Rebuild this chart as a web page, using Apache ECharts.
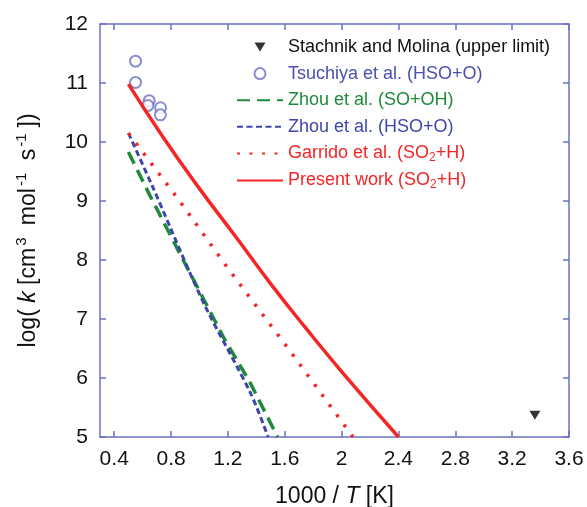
<!DOCTYPE html>
<html>
<head>
<meta charset="utf-8">
<script src="https://cdn.jsdelivr.net/npm/echarts@6/dist/echarts.min.js"></script>
<style>
  html, body { margin: 0; padding: 0; background: #fff; }
  #main { width: 587px; height: 507px; }
</style>
</head>
<body>
<div id="main"></div>
<script>
// values (x = 1000/T, y = log k)
var xTicks = [0.4, 0.8, 1.2, 1.6, 2, 2.4, 2.8, 3.2, 3.6];
var stachnik = [[3.36, 5.37]];
var tsuchiya = [[0.55, 11.37], [0.55, 11.01], [0.646, 10.70], [0.637, 10.62], [0.726, 10.58], [0.725, 10.46]];
var zhouSoOh = [[0.5, 9.83], [0.65, 9.10], [0.87, 8.07], [1.18, 6.64], [1.35, 5.95], [1.55, 5.0]];
var zhouHsoO = [[0.5, 10.15], [0.665, 9.27], [0.8, 8.52], [0.92, 7.85], [1.06, 7.12], [1.36, 5.74], [1.483, 5.0]];
var garrido = [[0.5, 10.15], [0.845, 9.05], [1.212, 7.82], [1.6, 6.58], [2.08, 5.0]];
var present = [[0.5, 10.98], [0.75, 10.06], [1.0, 9.21], [1.25, 8.41], [1.5, 7.6], [1.75, 6.84], [2.0, 6.11], [2.4, 5.0]];

var names = [
    'Stachnik and Molina (upper limit)',
    'Tsuchiya et al. (HSO+O)',
    'Zhou et al. (SO+OH)',
    'Zhou et al. (HSO+O)',
    'Garrido et al. (SO2+H)',
    'Present work (SO2+H)'
];

var axisColor = '#6b70c4';
var red = '#f42525';
var green = '#1f8a3c';
var blue = '#3a46aa';
var font = '"Liberation Sans", Arial, sans-serif';
var noSymbol = { opacity: 0 };

var myChart = echarts.init(document.getElementById('main'));

var option = {
    animation: false,
    backgroundColor: '#fff',
    textStyle: { fontFamily: font },
    grid: { left: 100, right: 18, top: 24, bottom: 70, outerBoundsMode: 'none', containLabel: false },
    legend: {
        orient: 'vertical',
        left: 231,
        top: 32,
        itemWidth: 46,
        itemHeight: 11,
        itemGap: 6.6,
        selectedMode: false,
        textStyle: {
            fontSize: 18,
            fontFamily: font,
            lineHeight: 20,
            rich: {
                s: { fontSize: 12, padding: [9, 0, 0, 0] }
            }
        },
        formatter: function (name) {
            return name.replace('SO2', 'SO{s|2}');
        },
        data: [
            { name: names[0], icon: 'path://M0,0M46,11M17.5,1L28.5,1L23,10Z', textStyle: { color: '#111' } },
            { name: names[1], textStyle: { color: '#4a50b0' } },
            { name: names[2], itemStyle: noSymbol, textStyle: { color: green } },
            { name: names[3], itemStyle: noSymbol, textStyle: { color: '#3f47a8' } },
            { name: names[4], itemStyle: noSymbol, textStyle: { color: red } },
            { name: names[5], itemStyle: noSymbol, textStyle: { color: red } }
        ]
    },
    xAxis: [{
        type: 'value',
        min: 0.3,
        max: 3.6,
        name: '1000 / {i|T} [K]',
        nameLocation: 'middle',
        nameGap: 48,
        nameTextStyle: {
            fontSize: 23,
            color: '#111',
            rich: { i: { fontSize: 23, fontStyle: 'italic', color: '#111' } }
        },
        axisLine: { show: true, lineStyle: { color: axisColor, width: 1.5 } },
        axisTick: { show: true, inside: true, length: 6, customValues: xTicks, lineStyle: { color: axisColor, width: 1.5 } },
        axisLabel: { customValues: xTicks, fontSize: 21, color: '#111', margin: 12 },
        splitLine: { show: false }
    }, {
        type: 'value',
        position: 'top',
        min: 0.3,
        max: 3.6,
        axisLine: { show: true, lineStyle: { color: axisColor, width: 1.5 } },
        axisTick: { show: true, inside: true, length: 6, customValues: xTicks, lineStyle: { color: axisColor, width: 1.5 } },
        axisLabel: { show: false },
        splitLine: { show: false }
    }],
    yAxis: [{
        type: 'value',
        min: 5,
        max: 12,
        interval: 1,
        name: 'log( {i|k} [cm{sup|3} mol{sup|-1} s{sup|-1}])',
        nameLocation: 'middle',
        nameRotate: 90,
        nameGap: 57,
        nameTextStyle: {
            fontSize: 23,
            color: '#111',
            rich: {
                i: { fontSize: 23, fontStyle: 'italic', color: '#111' },
                sup: { fontSize: 15, color: '#111', padding: [0, 6, 14, 2] }
            }
        },
        axisLine: { show: true, lineStyle: { color: axisColor, width: 1.5 } },
        axisTick: { show: true, inside: true, length: 6, lineStyle: { color: axisColor, width: 1.5 } },
        axisLabel: { fontSize: 21, color: '#111', margin: 12 },
        splitLine: { show: false }
    }, {
        type: 'value',
        position: 'right',
        min: 5,
        max: 12,
        interval: 1,
        axisLine: { show: true, lineStyle: { color: axisColor, width: 1.5 } },
        axisTick: { show: true, inside: true, length: 6, lineStyle: { color: axisColor, width: 1.5 } },
        axisLabel: { show: false },
        splitLine: { show: false }
    }],
    series: [{
        name: names[0],
        type: 'scatter',
        data: stachnik,
        symbol: 'triangle',
        symbolRotate: 180,
        symbolSize: [11, 9],
        itemStyle: { color: '#000' }
    }, {
        name: names[1],
        type: 'scatter',
        data: tsuchiya,
        symbol: 'emptyCircle',
        symbolSize: 11,
        itemStyle: { color: '#6d72c3', borderWidth: 1.1 }
    }, {
        name: names[2],
        type: 'line',
        data: zhouSoOh,
        symbol: 'none',
        lineStyle: { color: green, width: 3.5, type: [13, 7] },
        itemStyle: { color: green }
    }, {
        name: names[3],
        type: 'line',
        data: zhouHsoO,
        symbol: 'none',
        smooth: 0.3,
        lineStyle: { color: blue, width: 3, type: [6, 3.5] },
        itemStyle: { color: blue }
    }, {
        name: names[4],
        type: 'line',
        data: garrido,
        symbol: 'none',
        lineStyle: { color: red, width: 3.5, type: [3, 9.5] },
        itemStyle: { color: red }
    }, {
        name: names[5],
        type: 'line',
        data: present,
        symbol: 'none',
        smooth: 0.5,
        lineStyle: { color: red, width: 3.5 },
        itemStyle: { color: red }
    }]
};

myChart.setOption(option);
</script>
</body>
</html>
